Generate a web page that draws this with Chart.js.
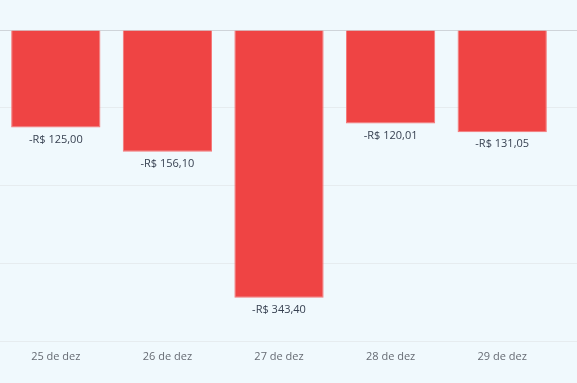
<!DOCTYPE html>
<html>
<head>
<meta charset="utf-8">
<script src="https://cdn.jsdelivr.net/npm/chart.js@4/dist/chart.umd.min.js"></script>
<style>
html,body{margin:0;padding:0;background:#f0f9fd;overflow:hidden;}
#wrap{width:577px;height:383px;position:relative;}
</style>
</head>
<body>
<div id="wrap"><canvas id="c"></canvas></div>
<script>
const categories = ["25 de dez", "26 de dez", "27 de dez", "28 de dez", "29 de dez"];
const values = [-125.00, -156.10, -343.40, -120.01, -131.05];
const yTicks = [0, -100, -200, -300, -400];

function fmt(v){
  const s = Math.abs(v).toFixed(2).replace('.', ',');
  return (v < 0 ? '-' : '') + 'R$ ' + s;
}

const labelPlugin = {
  id: 'barLabels',
  afterDatasetsDraw(chart){
    const ctx = chart.ctx;
    const meta = chart.getDatasetMeta(0);
    ctx.save();
    ctx.font = '11px "Open Sans", "Noto Sans", sans-serif';
    ctx.fillStyle = '#374151';
    ctx.textAlign = 'center';
    ctx.textBaseline = 'middle';
    meta.data.forEach((bar, i) => {
      const v = chart.data.datasets[0].data[i];
      ctx.fillText(fmt(v), bar.x, bar.y + 12);
    });
    ctx.restore();
  }
};

new Chart(document.getElementById('c'), {
  type: 'bar',
  data: {
    labels: categories,
    datasets: [{
      data: values,
      backgroundColor: '#ef4444',
      borderColor: '#f47878',
      borderWidth: 1,
      barPercentage: 0.8,
      categoryPercentage: 1.0
    }]
  },
  options: {
    responsive: true,
    maintainAspectRatio: false,
    animation: false,
    layout: { padding: { top: 30, left: 0, right: 0, bottom: 12 } },
    plugins: { legend: { display: false }, tooltip: { enabled: false } },
    scales: {
      x: {
        grid: { display: false, drawTicks: false },
        border: { display: false },
        ticks: {
          color: '#666b73',
          padding: 8,
          font: { size: 11, family: '"Open Sans", "Noto Sans", sans-serif' }
        }
      },
      y: {
        position: 'right',
        min: -400,
        max: 0,
        afterBuildTicks(axis){ axis.ticks = yTicks.map(v => ({ value: v })); },
        border: { display: false },
        grid: {
          drawTicks: true,
          tickLength: 19,
          color: ctx => ctx.tick && ctx.tick.value === 0 ? '#cfd4d9' : '#e6ecef',
          lineWidth: 1
        },
        ticks: { display: false }
      }
    }
  },
  plugins: [labelPlugin]
});
</script>
</body>
</html>
